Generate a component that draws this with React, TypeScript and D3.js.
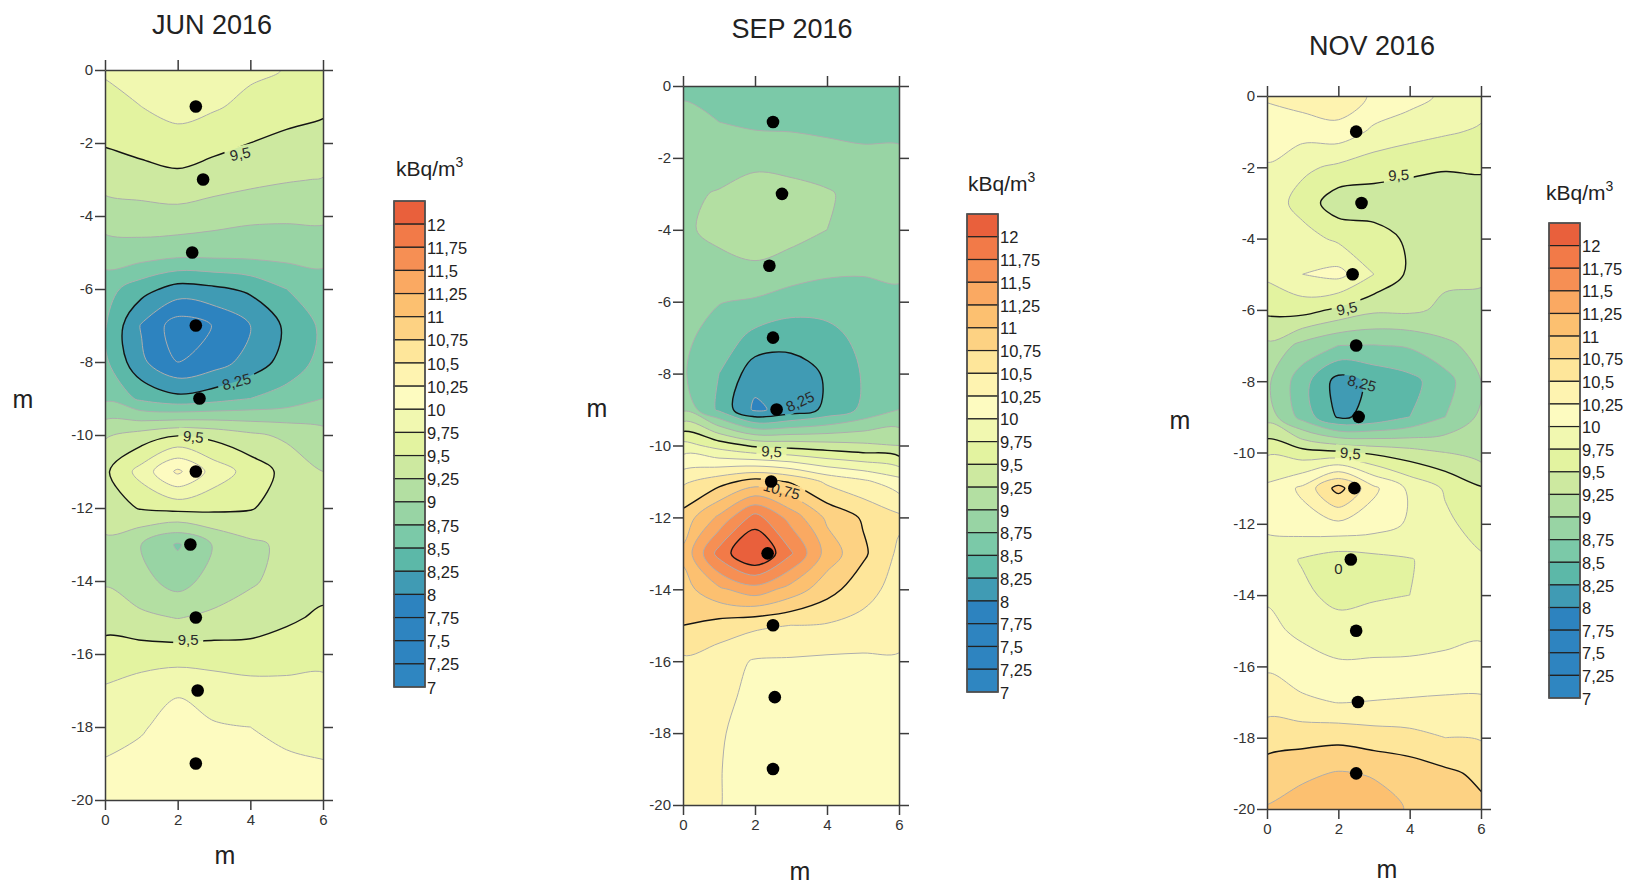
import React, { useEffect, useRef } from "react";
import * as d3 from "d3";

// contour levels (kBq/m3) and legend
const levels = [7, 7.25, 7.5, 7.75, 8, 8.25, 8.5, 8.75, 9, 9.25, 9.5, 9.75, 10, 10.25, 10.5, 10.75, 11, 11.25, 11.5, 11.75, 12];
const majorLevels = [8.25, 9.5, 10.75, 12];
const legendLabels = ["12", "11,75", "11,5", "11,25", "11", "10,75", "10,5", "10,25", "10", "9,75", "9,5", "9,25", "9", "8,75", "8,5", "8,25", "8", "7,75", "7,5", "7,25", "7"];
const bandColors = [
  "#2f86c1", "#2e84c0", "#2e84c0", "#2d83bf", "#409bb4", "#5cb8a8", "#7bc9a8",
  "#98d4a4", "#b3dfa2", "#cde9a0", "#e3f3a0", "#f1f8b0", "#fdfbc0", "#fef3b0",
  "#fee69a", "#fdd283", "#fcc070", "#faa962", "#f68f54", "#f27a48", "#e9603c",
];

// measurement grid: x (m) across, depth (m) down
const gridX = [0, 1, 2, 3, 4, 5, 6];
const gridDepth = [0, -1, -2, -3, -4, -5, -6, -7, -8, -9, -10, -11, -12, -13, -14, -15, -16, -17, -18, -19, -20];
const xTicks = [0, 2, 4, 6];
const yTicks = [0, -2, -4, -6, -8, -10, -12, -14, -16, -18, -20];

// sampling points
const dotDepth = [-1, -3, -5, -7, -9, -11, -13, -15, -17, -19];
const junDotX = [2.5, 2.7, 2.4, 2.5, 2.6, 2.5, 2.35, 2.5, 2.55, 2.5];
const sepDotX = [2.5, 2.75, 2.4, 2.5, 2.6, 2.45, 2.35, 2.5, 2.55, 2.5];
const novDotX = [2.5, 2.65, 2.4, 2.5, 2.57, 2.45, 2.35, 2.5, 2.55, 2.5];

const junGrid = [
  [9.78, 9.85, 9.95, 9.88, 9.8, 9.74, 9.68],
  [9.66, 9.75, 9.85, 9.78, 9.68, 9.6, 9.55],
  [9.52, 9.58, 9.64, 9.57, 9.5, 9.44, 9.4],
  [9.35, 9.4, 9.44, 9.38, 9.32, 9.27, 9.24],
  [9.12, 9.14, 9.16, 9.1, 9.05, 9.04, 9.05],
  [8.88, 8.9, 8.85, 8.85, 8.85, 8.85, 8.85],
  [8.6, 8.35, 8.15, 8.2, 8.3, 8.5, 8.62],
  [8.52, 7.98, 7.62, 7.76, 8.0, 8.3, 8.55],
  [8.55, 8.05, 7.75, 7.88, 8.1, 8.35, 8.58],
  [8.7, 8.45, 8.32, 8.4, 8.5, 8.6, 8.75],
  [9.22, 9.35, 9.48, 9.42, 9.3, 9.2, 9.08],
  [9.45, 9.85, 10.3, 9.9, 9.65, 9.42, 9.25],
  [9.38, 9.52, 9.58, 9.56, 9.52, 9.38, 9.3],
  [9.2, 9.0, 8.72, 9.02, 9.2, 9.3, 9.35],
  [9.22, 9.08, 8.9, 9.1, 9.22, 9.33, 9.4],
  [9.4, 9.3, 9.24, 9.3, 9.36, 9.45, 9.55],
  [9.6, 9.62, 9.62, 9.62, 9.6, 9.65, 9.7],
  [9.78, 9.88, 9.98, 9.9, 9.85, 9.82, 9.8],
  [9.9, 9.98, 10.08, 10.02, 10.0, 9.95, 9.92],
  [10.02, 10.06, 10.1, 10.08, 10.06, 10.03, 10.01],
  [10.08, 10.1, 10.12, 10.1, 10.08, 10.06, 10.04],
];

const sepGrid = [
  [8.7, 8.67, 8.62, 8.62, 8.62, 8.6, 8.6],
  [8.82, 8.75, 8.7, 8.7, 8.68, 8.67, 8.67],
  [8.88, 8.87, 8.92, 8.88, 8.84, 8.8, 8.8],
  [8.95, 9.02, 9.12, 9.1, 9.03, 8.9, 8.85],
  [8.97, 9.05, 9.12, 9.08, 9.0, 8.88, 8.82],
  [8.88, 8.95, 8.98, 8.92, 8.82, 8.78, 8.76],
  [8.82, 8.76, 8.72, 8.62, 8.62, 8.68, 8.74],
  [8.8, 8.65, 8.42, 8.35, 8.4, 8.58, 8.7],
  [8.78, 8.5, 8.1, 8.12, 8.28, 8.52, 8.68],
  [8.95, 8.45, 7.95, 8.1, 8.3, 8.55, 8.75],
  [9.85, 9.65, 9.45, 9.4, 9.35, 9.3, 9.25],
  [10.45, 10.65, 10.85, 10.72, 10.45, 10.3, 10.1],
  [10.85, 11.3, 11.85, 11.4, 10.95, 10.72, 10.55],
  [11.05, 11.85, 12.3, 11.78, 11.15, 10.8, 10.45],
  [10.9, 11.2, 11.4, 11.15, 10.85, 10.6, 10.4],
  [10.75, 10.65, 10.55, 10.5, 10.48, 10.42, 10.35],
  [10.45, 10.35, 10.23, 10.22, 10.2, 10.2, 10.22],
  [10.4, 10.3, 10.2, 10.17, 10.15, 10.15, 10.15],
  [10.38, 10.27, 10.17, 10.14, 10.12, 10.12, 10.12],
  [10.36, 10.26, 10.15, 10.12, 10.1, 10.1, 10.1],
  [10.35, 10.26, 10.14, 10.1, 10.08, 10.08, 10.08],
];

const novGrid = [
  [10.28, 10.38, 10.45, 10.2, 10.1, 9.95, 9.85],
  [10.12, 10.1, 10.15, 9.95, 9.85, 9.78, 9.72],
  [9.98, 9.8, 9.7, 9.6, 9.55, 9.52, 9.53],
  [9.9, 9.65, 9.35, 9.38, 9.38, 9.35, 9.38],
  [9.88, 9.85, 9.7, 9.6, 9.46, 9.32, 9.3],
  [9.8, 10.0, 10.08, 9.75, 9.45, 9.3, 9.28],
  [9.56, 9.6, 9.45, 9.3, 9.3, 9.2, 9.2],
  [9.2, 8.92, 8.75, 8.74, 8.78, 8.95, 9.08],
  [9.05, 8.6, 8.15, 8.3, 8.42, 8.65, 9.0],
  [9.15, 8.65, 8.22, 8.3, 8.5, 8.75, 9.05],
  [9.72, 9.6, 9.55, 9.45, 9.35, 9.25, 9.15],
  [10.05, 10.3, 10.85, 10.3, 9.95, 9.72, 9.52],
  [10.05, 10.15, 10.2, 10.12, 9.97, 9.8, 9.65],
  [9.88, 9.73, 9.62, 9.68, 9.74, 9.82, 9.78],
  [9.97, 9.8, 9.68, 9.72, 9.75, 9.82, 9.88],
  [10.06, 9.95, 9.85, 9.88, 9.9, 9.94, 9.97],
  [10.22, 10.1, 10.04, 10.04, 10.04, 10.05, 10.07],
  [10.38, 10.3, 10.24, 10.26, 10.28, 10.3, 10.3],
  [10.66, 10.66, 10.68, 10.62, 10.58, 10.5, 10.48],
  [10.85, 10.95, 11.02, 10.98, 10.9, 10.8, 10.7],
  [11.02, 11.12, 11.2, 11.1, 10.98, 10.88, 10.8],
];

// contour labels (x in m, depth in m, rotation)
const junLabels = [
  { text: "9,5", x: 3.72, d: -2.3, angle: -12 },
  { text: "8,25", x: 3.62, d: -8.54, angle: -15 },
  { text: "9,5", x: 2.43, d: -10.05, angle: 6 },
  { text: "9,5", x: 2.29, d: -15.62, angle: 0 },
];
const sepLabels = [
  { text: "8,25", x: 3.25, d: -8.78, angle: -25 },
  { text: "9,5", x: 2.46, d: -10.17, angle: 3 },
  { text: "10,75", x: 2.74, d: -11.24, angle: 15 },
];
const novLabels = [
  { text: "9,5", x: 3.69, d: -2.22, angle: -3 },
  { text: "9,5", x: 2.24, d: -5.96, angle: -12 },
  { text: "8,25", x: 2.66, d: -8.06, angle: 15 },
  { text: "9,5", x: 2.34, d: -10.02, angle: 5 },
  { text: "0", x: 2.0, d: -13.25, angle: 0 },
];

const panels = [
  {
    title: "JUN 2016", grid: junGrid, dotsX: junDotX, labels: junLabels,
    left: 105, top: 70, right: 323, bottom: 800,
    titleX: 212, titleY: 34, yLab: [23, 408], xLab: [225, 864],
    legend: { x: 394, top: 201, bottom: 687, titleX: 396, titleY: 176 },
  },
  {
    title: "SEP 2016", grid: sepGrid, dotsX: sepDotX, labels: sepLabels,
    left: 683, top: 86, right: 899, bottom: 805,
    titleX: 792, titleY: 38, yLab: [597, 417], xLab: [800, 880],
    legend: { x: 967, top: 214, bottom: 692, titleX: 968, titleY: 191 },
  },
  {
    title: "NOV 2016", grid: novGrid, dotsX: novDotX, labels: novLabels,
    left: 1267, top: 96, right: 1481, bottom: 809,
    titleX: 1372, titleY: 55, yLab: [1180, 429], xLab: [1387, 878],
    legend: { x: 1549, top: 223, bottom: 698, titleX: 1546, titleY: 200 },
  },
];

const font = "'Liberation Sans', Arial, Helvetica, sans-serif";
const W = 1625, H = 887;

export default function App() {
  const ref = useRef<SVGSVGElement>(null);

  useEffect(() => {
    const svg = d3.select(ref.current);
    svg.selectAll("*").remove();
    const defs = svg.append("defs");
    const ringLine = d3.line().curve(d3.curveCatmullRomClosed.alpha(0.5));

    panels.forEach((p, i) => {
      const x = d3.scaleLinear().domain([0, 6]).range([p.left, p.right]);
      const y = d3.scaleLinear().domain([0, -20]).range([p.top, p.bottom]);
      const stepX = gridX[1] - gridX[0];
      const stepD = gridDepth[1] - gridDepth[0];

      const contours = d3.contours()
        .size([gridX.length, gridDepth.length])
        .thresholds(levels)(p.grid.flat());

      // grid sample i sits at i + 0.5 in contour space; rings drawn as smooth closed curves
      const toPx = (pt: number[]) => [x(gridX[0] + (pt[0] - 0.5) * stepX), y(gridDepth[0] + (pt[1] - 0.5) * stepD)];
      const contourPath = (c: any) =>
        c.coordinates
          .map((poly: number[][][]) =>
            poly.map(ring => ringLine(ring.slice(0, -1).map(toPx) as any)).join(""))
          .join("");

      defs.append("clipPath").attr("id", `clip${i}`)
        .append("rect")
        .attr("x", p.left).attr("y", p.top)
        .attr("width", p.right - p.left).attr("height", p.bottom - p.top);

      const mask = defs.append("mask").attr("id", `mask${i}`)
        .attr("maskUnits", "userSpaceOnUse")
        .attr("x", 0).attr("y", 0).attr("width", W).attr("height", H);
      mask.append("rect").attr("width", W).attr("height", H).attr("fill", "white");
      p.labels.forEach(l => {
        const w = l.text.length * 8 + 6;
        mask.append("rect")
          .attr("x", -w / 2).attr("y", -8).attr("width", w).attr("height", 16)
          .attr("fill", "black")
          .attr("transform", `translate(${x(l.x)},${y(l.d)}) rotate(${l.angle})`);
      });

      const g = svg.append("g").attr("clip-path", `url(#clip${i})`);

      g.append("g").selectAll("path")
        .data(contours)
        .join("path")
        .attr("d", d => contourPath(d))
        .attr("fill", (d, k) => bandColors[k]);

      g.append("g").attr("mask", `url(#mask${i})`)
        .selectAll("path")
        .data(contours.slice(1))
        .join("path")
        .attr("d", d => contourPath(d))
        .attr("fill", "none")
        .attr("stroke", d => (majorLevels.includes(d.value) ? "#141414" : "#adadad"))
        .attr("stroke-width", d => (majorLevels.includes(d.value) ? 1.4 : 1))
        .attr("stroke-linejoin", "round");

      g.append("g").selectAll("text")
        .data(p.labels)
        .join("text")
        .attr("transform", d => `translate(${x(d.x)},${y(d.d)}) rotate(${d.angle})`)
        .attr("text-anchor", "middle")
        .attr("dy", "0.35em")
        .attr("font-family", font)
        .attr("font-size", 15)
        .attr("fill", "#2a2a2a")
        .text(d => d.text);

      // sampling dots
      svg.append("g").selectAll("circle")
        .data(p.dotsX.map((dx, k) => ({ x: dx, d: dotDepth[k] })))
        .join("circle")
        .attr("cx", d => x(d.x))
        .attr("cy", d => y(d.d))
        .attr("r", 6.3)
        .attr("fill", "#000");

      // axes
      const ax = svg.append("g");
      ax.append("g").attr("transform", `translate(${p.left},0)`)
        .call(d3.axisLeft(y).tickValues(yTicks).tickSize(10).tickSizeOuter(0).tickPadding(2).tickFormat(d => String(d)));
      ax.append("g").attr("transform", `translate(0,${p.bottom})`)
        .call(d3.axisBottom(x).tickValues(xTicks).tickSize(10).tickSizeOuter(0).tickPadding(4).tickFormat(d => String(d)));
      ax.append("g").attr("transform", `translate(0,${p.top})`)
        .call(d3.axisTop(x).tickValues(xTicks).tickSize(10).tickSizeOuter(0).tickFormat(() => ""));
      ax.append("g").attr("transform", `translate(${p.right},0)`)
        .call(d3.axisRight(y).tickValues(yTicks).tickSize(10).tickSizeOuter(0).tickFormat(() => ""));
      ax.selectAll(".domain, .tick line").attr("stroke", "#3c3c3c").attr("stroke-width", 1.5);
      ax.selectAll("text").attr("font-family", font).attr("font-size", 15).attr("fill", "#333");

      // titles
      svg.append("text")
        .attr("x", p.titleX).attr("y", p.titleY)
        .attr("text-anchor", "middle")
        .attr("font-family", font).attr("font-size", 27).attr("fill", "#222")
        .text(p.title);
      svg.append("text")
        .attr("x", p.yLab[0]).attr("y", p.yLab[1])
        .attr("text-anchor", "middle")
        .attr("font-family", font).attr("font-size", 25).attr("fill", "#222")
        .text("m");
      svg.append("text")
        .attr("x", p.xLab[0]).attr("y", p.xLab[1])
        .attr("text-anchor", "middle")
        .attr("font-family", font).attr("font-size", 25).attr("fill", "#222")
        .text("m");

      // legend
      const L = p.legend;
      const n = bandColors.length;
      const h = (L.bottom - L.top) / n;
      const lg = svg.append("g");
      const lt = lg.append("text")
        .attr("x", L.titleX).attr("y", L.titleY)
        .attr("font-family", font).attr("font-size", 21).attr("fill", "#222");
      lt.append("tspan").text("kBq/m");
      lt.append("tspan").attr("font-size", 14).attr("dy", -9).text("3");
      lg.selectAll("rect")
        .data(bandColors.slice().reverse())
        .join("rect")
        .attr("x", L.x).attr("y", (d, k) => L.top + k * h)
        .attr("width", 31).attr("height", h)
        .attr("fill", d => d)
        .attr("stroke", "#222").attr("stroke-width", 1.2);
      lg.append("rect")
        .attr("x", L.x).attr("y", L.top).attr("width", 31).attr("height", L.bottom - L.top)
        .attr("fill", "none").attr("stroke", "#555").attr("stroke-width", 1.5);
      lg.selectAll("text.lab")
        .data(legendLabels)
        .join("text")
        .attr("class", "lab")
        .attr("x", L.x + 33).attr("y", (d, k) => L.top + (k + 1) * h)
        .attr("dy", "0.4em")
        .attr("font-family", font).attr("font-size", 16.5).attr("fill", "#222")
        .text(d => d);
    });
  }, []);

  return (
    <div style={{ position: "absolute", left: 0, top: 0 }}>
      <svg ref={ref} width={W} height={H} style={{ display: "block", background: "#fff" }} />
    </div>
  );
}
